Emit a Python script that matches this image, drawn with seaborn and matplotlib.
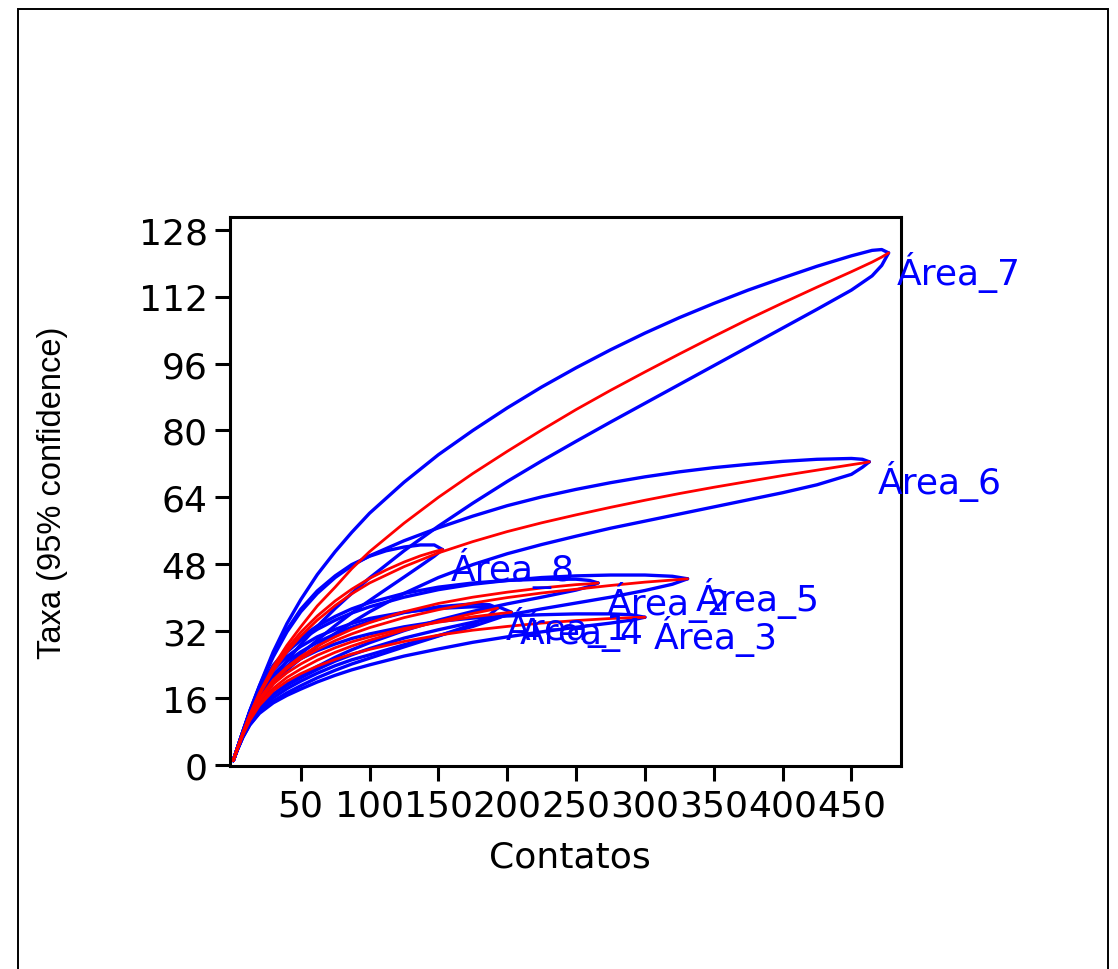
import numpy as np
import pandas as pd
import seaborn as sns
import matplotlib.pyplot as plt
from matplotlib.patches import Rectangle

# Curvas de rarefação: média, limite superior e inferior (95%)
a1_n = [1, 4, 8, 13, 20, 30, 40, 50, 62, 75, 87, 100, 125, 150, 175, 187, 193]
a1_mean = [1, 3.8, 7.2, 10.8, 14.5, 18.3, 20.9, 22.9, 25, 26.9, 28.4, 29.8, 32.2, 34.3, 36.2, 37, 37.5]
a1_upper = [1, 4, 7.8, 12.1, 16.8, 21.6, 24.7, 27, 29.3, 31.3, 32.9, 34.3, 36.4, 37.8, 38.5, 38.3, 37.5]
a1_lower = [1, 3.6, 6.6, 9.6, 12.5, 15.2, 17.2, 18.9, 20.8, 22.6, 24.1, 25.5, 28.2, 30.8, 33.6, 35.8, 37.5]

a2_n = [1, 4, 8, 13, 20, 30, 40, 50, 62, 75, 87, 100, 125, 150, 175, 200, 225, 250, 260, 266]
a2_mean = [1, 3.9, 7.4, 11.4, 15.8, 20.3, 23.4, 25.9, 28.4, 30.6, 32.4, 34, 36.6, 38.6, 40.1, 41.3, 42.3, 43.1, 43.3, 43.5]
a2_upper = [1, 4, 7.9, 12.6, 18.1, 23.8, 27.6, 30.5, 33.2, 35.5, 37.3, 38.8, 41, 42.5, 43.5, 44.1, 44.4, 44.4, 44.1, 43.5]
a2_lower = [1, 3.7, 6.9, 10.2, 13.6, 16.9, 19.3, 21.3, 23.5, 25.7, 27.5, 29.2, 32.1, 34.6, 36.7, 38.5, 40.1, 41.8, 42.7, 43.5]

a3_n = [1, 4, 8, 13, 20, 30, 40, 50, 62, 75, 87, 100, 125, 150, 175, 200, 225, 250, 275, 290, 300]
a3_mean = [1, 3.8, 7.2, 10.6, 14.2, 17.7, 20, 21.8, 23.6, 25.2, 26.5, 27.6, 29.5, 31, 32.2, 33.1, 33.9, 34.5, 35, 35.2, 35.3]
a3_upper = [1, 4, 7.7, 11.8, 16.2, 20.7, 23.4, 25.4, 27.3, 28.9, 30.2, 31.3, 33, 34.3, 35.1, 35.6, 35.9, 36.1, 36.1, 35.9, 35.3]
a3_lower = [1, 3.6, 6.6, 9.5, 12.3, 14.8, 16.6, 18.1, 19.8, 21.4, 22.7, 23.9, 26, 27.7, 29.3, 30.6, 31.8, 32.9, 33.9, 34.6, 35.3]

a4_n = [1, 4, 8, 13, 20, 30, 40, 50, 62, 75, 87, 100, 125, 150, 175, 195, 203]
a4_mean = [1, 3.9, 7.4, 11.2, 15.3, 19.3, 22, 24.1, 26.2, 28, 29.4, 30.6, 32.6, 34.1, 35.4, 36.2, 36.5]
a4_upper = [1, 4, 7.9, 12.5, 17.6, 22.7, 25.9, 28.3, 30.6, 32.4, 33.8, 35, 36.5, 37.4, 37.8, 37.6, 36.5]
a4_lower = [1, 3.7, 6.8, 10, 13.1, 16, 18.2, 20, 21.9, 23.7, 25.1, 26.3, 28.7, 30.9, 33.1, 35.3, 36.5]

a5_n = [1, 4, 8, 13, 20, 30, 40, 50, 62, 75, 87, 100, 125, 150, 175, 200, 225, 250, 275, 300, 320, 331]
a5_mean = [1, 3.9, 7.4, 11.3, 15.6, 20, 23, 25.3, 27.6, 29.7, 31.3, 32.8, 35.2, 37.1, 38.7, 40, 41.1, 42, 42.9, 43.7, 44.2, 44.5]
a5_upper = [1, 4, 7.9, 12.5, 17.8, 23.3, 27, 29.8, 32.4, 34.6, 36.3, 37.8, 40.1, 41.9, 43.2, 44.1, 44.8, 45.2, 45.4, 45.4, 45.1, 44.5]
a5_lower = [1, 3.7, 6.8, 10.1, 13.5, 16.8, 19, 20.8, 22.8, 24.8, 26.3, 27.8, 30.3, 32.3, 34.1, 35.8, 37.3, 38.7, 40.1, 41.7, 43.2, 44.5]

a6_n = [1, 4, 8, 13, 20, 30, 40, 50, 62, 75, 87, 100, 125, 150, 175, 200, 225, 250, 275, 300, 325, 350, 375, 400, 425, 450, 458, 463]
a6_mean = [1, 3.9, 7.5, 11.8, 16.8, 22.5, 27, 30.8, 34.6, 38.1, 40.9, 43.5, 47.4, 50.7, 53.4, 55.8, 57.9, 59.8, 61.6, 63.3, 64.9, 66.4, 67.8, 69.2, 70.5, 71.8, 72.2, 72.5]
a6_upper = [1, 4, 7.9, 12.7, 18.6, 25.8, 31.8, 36.6, 41, 44.8, 47.6, 50, 53.6, 56.7, 59.5, 62, 64.1, 65.9, 67.5, 68.9, 70.1, 71.1, 71.9, 72.6, 73.1, 73.3, 73.1, 72.5]
a6_lower = [1, 3.7, 7, 10.8, 15, 19.5, 22.7, 25.4, 28.4, 31.4, 34, 36.6, 41, 44.8, 47.9, 50.5, 52.7, 54.7, 56.6, 58.3, 60, 61.7, 63.4, 65.1, 67, 69.5, 71.2, 72.5]

a7_n = [1, 4, 8, 13, 20, 30, 40, 50, 62, 75, 87, 100, 125, 150, 175, 200, 225, 250, 275, 300, 325, 350, 375, 400, 425, 450, 465, 472, 477]
a7_mean = [1, 3.9, 7.6, 11.9, 17.2, 23.5, 28.6, 33, 38, 42.5, 46.9, 51, 57.8, 64, 69.7, 75, 80.1, 85, 89.6, 94, 98.3, 102.5, 106.6, 110.5, 114.3, 118, 120.3, 121.5, 122.5]
a7_upper = [1, 4, 8, 12.9, 18.9, 27, 33.8, 39.5, 45.5, 51, 55.6, 60.2, 67.6, 74.2, 80, 85.4, 90.4, 95, 99.3, 103.3, 107, 110.4, 113.6, 116.5, 119.3, 121.8, 123.1, 123.3, 122.5]
a7_lower = [1, 3.8, 7.1, 10.8, 15.2, 20.5, 24.9, 28.8, 33.1, 37.4, 41, 44.7, 51.2, 57.1, 62.6, 67.8, 72.7, 77.4, 82, 86.5, 91, 95.5, 100, 104.5, 109, 113.6, 117, 119.5, 122.5]

a8_n = [1, 4, 8, 13, 20, 30, 40, 50, 62, 75, 87, 100, 112, 125, 137, 147, 153]
a8_mean = [1, 3.9, 7.6, 11.9, 17.1, 23.1, 27.8, 31.7, 35.6, 39.2, 42, 44.6, 46.6, 48.5, 50, 51, 51.5]
a8_upper = [1, 4, 8, 12.8, 18.8, 26.3, 32.3, 37.2, 41.6, 45.2, 47.9, 49.9, 51.2, 52.1, 52.6, 52.6, 51.5]
a8_lower = [1, 3.8, 7.1, 10.9, 15.3, 20.2, 23.6, 26.5, 29.8, 33.3, 36.3, 39.3, 42, 44.9, 47.6, 49.9, 51.5]

area_names = ['Área_1', 'Área_2', 'Área_3', 'Área_4', 'Área_5', 'Área_6', 'Área_7', 'Área_8']
x_ticks = [50, 100, 150, 200, 250, 300, 350, 400, 450]
y_ticks = [0, 16, 32, 48, 64, 80, 96, 112, 128]

areas = [
    (a1_n, a1_mean, a1_upper, a1_lower),
    (a2_n, a2_mean, a2_upper, a2_lower),
    (a3_n, a3_mean, a3_upper, a3_lower),
    (a4_n, a4_mean, a4_upper, a4_lower),
    (a5_n, a5_mean, a5_upper, a5_lower),
    (a6_n, a6_mean, a6_upper, a6_lower),
    (a7_n, a7_mean, a7_upper, a7_lower),
    (a8_n, a8_mean, a8_upper, a8_lower),
]

sns.set_style('ticks')
plt.rcParams['font.family'] = ['DejaVu Sans']
plt.rcParams['text.color'] = 'black'
plt.rcParams['xtick.color'] = 'black'
plt.rcParams['ytick.color'] = 'black'

fig = plt.figure(figsize=(11.18, 9.70), dpi=100)
ax = fig.add_axes([0.2057, 0.2093, 0.6002, 0.566])

# envelopes (azul)
for n, m, up, lo in areas:
    sns.lineplot(x=n, y=up, color='#0000ff', lw=2.4, ax=ax, estimator=None, sort=False)
    sns.lineplot(x=n, y=lo, color='#0000ff', lw=2.4, ax=ax, estimator=None, sort=False)

# médias (vermelho)
for n, m, up, lo in areas:
    sns.lineplot(x=n, y=m, color='#ff0000', lw=2.0, ax=ax, estimator=None, sort=False)

# rótulos no fim de cada curva
for name, (n, m, up, lo) in zip(area_names, areas):
    ax.annotate(name, (n[-1], m[-1]), xytext=(6, 1.5), textcoords='offset points',
                ha='left', va='top', color='#0000ff', fontsize=26, annotation_clip=False)

ax.set_xlim(-1.4, 486)
ax.set_ylim(-0.3, 131.1)
ax.set_xticks(x_ticks)
ax.set_yticks(y_ticks)
ax.tick_params(axis='both', length=11, width=2.2, labelsize=26, colors='black')
ax.tick_params(axis='x', pad=5)
ax.tick_params(axis='y', pad=5)
for s in ax.spines.values():
    s.set_visible(True)
    s.set_linewidth(2.2)
    s.set_color('black')
ax.set_xlabel('')
ax.set_ylabel('')

fig.text(570 / 1118, 1 - 858 / 970, 'Contatos', ha='center', va='center', fontsize=26, color='black')
fig.text(53 / 1118, 1 - 493 / 970, 'Taxa (95% confidence)', ha='center', va='center',
         rotation=90, fontsize=23.5, color='black', family=['Liberation Sans', 'DejaVu Sans'])

# moldura externa
fig.add_artist(Rectangle((18 / 1118, -0.05), (1108 - 18) / 1118, 1.05 - 10 / 970,
                         transform=fig.transFigure, fill=False, edgecolor='black', lw=1.4))

fig.savefig('out.png', dpi=100)
